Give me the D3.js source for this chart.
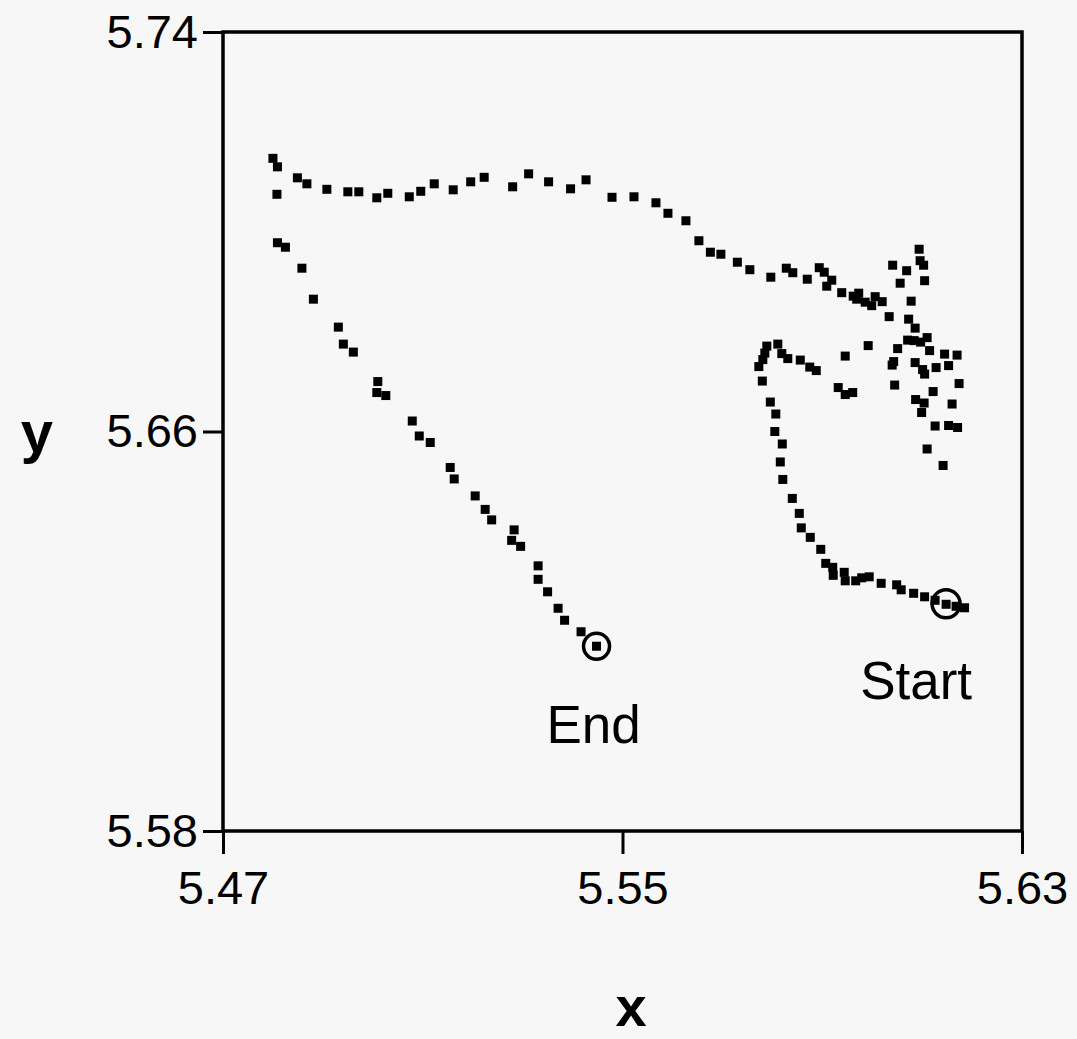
<!DOCTYPE html>
<html>
<head>
<meta charset="utf-8">
<script src="https://cdn.jsdelivr.net/npm/d3@7"></script>
<style>
  html, body { margin: 0; padding: 0; background: #f7f7f7; }
  svg { display: block; }
  text { font-family: "Liberation Sans", Arial, Helvetica, sans-serif; fill: #000; }
</style>
</head>
<body>
<svg id="chart" width="1077" height="1039"></svg>
<script>
// Trajectory samples (x, y)
const xs = [
  5.4800, 5.4809, 5.4808, 5.4849, 5.4868, 5.4908, 5.4950, 5.4972, 5.5008, 5.5030,
  5.5073, 5.5096, 5.5123, 5.5161, 5.5196, 5.5223, 5.5280, 5.5312, 5.5352, 5.5396,
  5.5427, 5.5479, 5.5523, 5.5567, 5.5591, 5.5627, 5.5653, 5.5676, 5.5697, 5.5730,
  5.5755, 5.5797, 5.5828, 5.5841, 5.5870, 5.5894, 5.5904, 5.5919, 5.5909, 5.5939,
  5.5962, 5.5973, 5.5969, 5.5986, 5.5999, 5.6006, 5.6020, 5.6034, 5.6094, 5.6096,
  5.6103, 5.6041, 5.6069, 5.6105, 5.6056, 5.6078, 5.6073, 5.6086, 5.6071, 5.6084,
  5.6097, 5.6110, 5.5992, 5.6051, 5.6115, 5.6145, 5.6170, 5.5946, 5.6043, 5.6040,
  5.6086, 5.6101, 5.6105, 5.6128, 5.6153, 5.6045, 5.6174, 5.6122, 5.5932, 5.5946,
  5.5961, 5.6087, 5.6104, 5.6099, 5.6160, 5.6126, 5.6153, 5.6171, 5.6110, 5.6142,
  5.5789, 5.5785, 5.5781, 5.5773, 5.5780, 5.5811, 5.5819, 5.5831, 5.5856, 5.5875,
  5.5888, 5.5796, 5.5807, 5.5805, 5.5820, 5.5816, 5.5821, 5.5840, 5.5854, 5.5858,
  5.5876, 5.5897, 5.5907, 5.5921, 5.5922, 5.5944, 5.5946, 5.5967, 5.5979, 5.5994,
  5.6018, 5.6049, 5.6058, 5.6083, 5.6105, 5.6126, 5.6148, 5.6168, 5.6185,
  5.4825, 5.4809, 5.4858, 5.4881, 5.4931, 5.4941, 5.4961, 5.5010, 5.5008, 5.5026,
  5.5079, 5.5093, 5.5115, 5.5155, 5.5163, 5.5205, 5.5225, 5.5238, 5.5283, 5.5278,
  5.5296, 5.5331, 5.5331, 5.5350, 5.5371, 5.5384, 5.5417, 5.5448
];
const ys = [
  5.7147, 5.7130, 5.7075, 5.7108, 5.7096, 5.7085, 5.7080, 5.7080, 5.7068, 5.7077,
  5.7070, 5.7081, 5.7096, 5.7084, 5.7100, 5.7109, 5.7090, 5.7116, 5.7100, 5.7086,
  5.7104, 5.7069, 5.7070, 5.7058, 5.7037, 5.7022, 5.6982, 5.6959, 5.6955, 5.6939,
  5.6924, 5.6909, 5.6927, 5.6918, 5.6905, 5.6928, 5.6919, 5.6903, 5.6891, 5.6878,
  5.6871, 5.6877, 5.6865, 5.6859, 5.6852, 5.6870, 5.6860, 5.6830, 5.6965, 5.6942,
  5.6933, 5.6933, 5.6922, 5.6902, 5.6897, 5.6861, 5.6825, 5.6807, 5.6783, 5.6782,
  5.6779, 5.6788, 5.6772, 5.6766, 5.6762, 5.6755, 5.6753, 5.6751, 5.6740, 5.6733,
  5.6738, 5.6724, 5.6715, 5.6728, 5.6732, 5.6693, 5.6696, 5.6680, 5.6688, 5.6674,
  5.6678, 5.6664, 5.6657, 5.6638, 5.6655, 5.6611, 5.6612, 5.6608, 5.6565, 5.6532,
  5.6771, 5.6757, 5.6744, 5.6730, 5.6701, 5.6775, 5.6756, 5.6746, 5.6743, 5.6729,
  5.6722, 5.6659, 5.6635, 5.6600, 5.6575, 5.6539, 5.6504, 5.6466, 5.6436, 5.6407,
  5.6388, 5.6364, 5.6336, 5.6328, 5.6312, 5.6318, 5.6301, 5.6301, 5.6307, 5.6309,
  5.6296, 5.6293, 5.6283, 5.6276, 5.6269, 5.6262, 5.6254, 5.6250, 5.6247,
  5.6969, 5.6978, 5.6927, 5.6865, 5.6809, 5.6775, 5.6759, 5.6700, 5.6678, 5.6672,
  5.6621, 5.6591, 5.6578, 5.6528, 5.6505, 5.6471, 5.6444, 5.6423, 5.6403, 5.6382,
  5.6370, 5.6331, 5.6304, 5.6279, 5.6246, 5.6222, 5.6199, 5.6170
];

// Marked endpoints
const markerNames = ["Start", "End"];
const markerX = [5.6148, 5.5448];
const markerY = [5.6255, 5.6170];

// Axis ticks
const xTicks = [5.47, 5.55, 5.63];
const yTicks = [5.58, 5.66, 5.74];
const xTickLabels = ["5.47", "5.55", "5.63"];
const yTickLabels = ["5.58", "5.66", "5.74"];

const svg = d3.select("#chart");
const margin = { left: 223, top: 32 };
const W = 799, H = 799;

const x = d3.scaleLinear().domain([5.47, 5.63]).range([0, W]);
const y = d3.scaleLinear().domain([5.58, 5.74]).range([H, 0]);

const g = svg.append("g").attr("transform", `translate(${margin.left},${margin.top})`);

// Points
const pts = xs.map((v, i) => ({ x: v, y: ys[i] }));
const s = 9;
g.append("g").selectAll("rect").data(pts).join("rect")
  .attr("x", d => x(d.x) - s / 2)
  .attr("y", d => y(d.y) - s / 2)
  .attr("width", s).attr("height", s)
  .attr("fill", "#000");

// Start / End circles
const marks = markerNames.map((n, i) => ({ name: n, x: markerX[i], y: markerY[i] }));
g.append("g").selectAll("circle").data(marks).join("circle")
  .attr("cx", d => x(d.x)).attr("cy", d => y(d.y))
  .attr("r", d => d.name === "Start" ? 14 : 13)
  .attr("fill", "none").attr("stroke", "#000").attr("stroke-width", 3.5);

g.append("g").selectAll("text").data(marks).join("text")
  .attr("x", d => x(d.x) + (d.name === "Start" ? -30 : -3))
  .attr("y", d => y(d.y) + (d.name === "Start" ? 95 : 97))
  .attr("text-anchor", "middle")
  .attr("font-size", 53)
  .text(d => d.name);

// Frame
g.append("rect").attr("x", 0).attr("y", 0).attr("width", W).attr("height", H)
  .attr("fill", "none").attr("stroke", "#000").attr("stroke-width", 3.5);

// Axes
const xAxis = d3.axisBottom(x).tickValues(xTicks)
  .tickFormat((d, i) => xTickLabels[i]).tickSize(23).tickSizeOuter(0).tickPadding(17);
const yAxis = d3.axisLeft(y).tickValues(yTicks)
  .tickFormat((d, i) => yTickLabels[i]).tickSize(20).tickSizeOuter(0).tickPadding(5);

const gx = g.append("g").attr("transform", `translate(0,${H})`).call(xAxis);
const gy = g.append("g").call(yAxis);
[gx, gy].forEach(a => {
  a.select(".domain").remove();
  a.selectAll(".tick line").attr("stroke", "#000").attr("stroke-width", 3);
  a.selectAll(".tick text")
    .attr("font-family", "'Liberation Sans', Arial, Helvetica, sans-serif")
    .attr("font-size", 47).attr("fill", "#000");
});

// Axis titles
svg.append("text").attr("x", 631).attr("y", 1026)
  .attr("text-anchor", "middle").attr("font-size", 56).attr("font-weight", "bold").text("x");
svg.append("text").attr("x", 37).attr("y", 452)
  .attr("text-anchor", "middle").attr("font-size", 58).attr("font-weight", "bold").text("y");
</script>
</body>
</html>
